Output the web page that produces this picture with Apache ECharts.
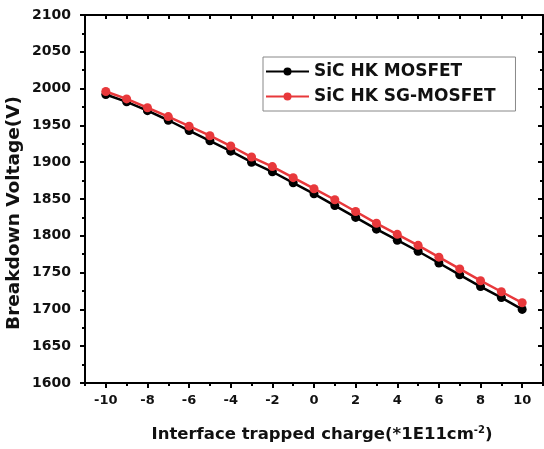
<!DOCTYPE html>
<html>
<head>
<meta charset="utf-8">
<title>Breakdown voltage vs interface trapped charge</title>
<script src="https://cdn.jsdelivr.net/npm/echarts@6/dist/echarts.min.js"></script>
<style>
  html, body { margin: 0; padding: 0; background: #fff; }
  #chart { width: 544px; height: 449px; }
</style>
</head>
<body>
<div id="chart"></div>
<script>
// trapped charge (*1E11 cm^-2)
var charge = [-10, -9, -8, -7, -6, -5, -4, -3, -2, -1, 0, 1, 2, 3, 4, 5, 6, 7, 8, 9, 10];
// breakdown voltage (V)
var hkMosfet = [1992, 1982, 1970, 1957, 1943, 1929, 1915, 1900, 1887, 1872, 1857,
                1841, 1825, 1809, 1794, 1779, 1763, 1747, 1731, 1716, 1700];
var hkSgMosfet = [1996, 1986, 1974, 1962, 1949, 1936, 1922, 1907, 1894, 1879, 1864,
                  1849, 1833, 1817, 1802, 1787, 1771, 1755, 1739, 1724, 1709];
// tick positions on the x axis
var xMajor = [-10, -8, -6, -4, -2, 0, 2, 4, 6, 8, 10];
var xMinor = [-11, -9, -7, -5, -3, -1, 1, 3, 5, 7, 9, 11];

var seriesNames = ['SiC HK MOSFET', 'SiC HK SG-MOSFET'];
var seriesColors = ['#000000', '#e8383b'];

function pairs(ys) {
    return charge.map(function (x, i) { return [x, ys[i]]; });
}

var font = '"DejaVu Sans", sans-serif';
var blackLine = { show: true, onZero: false, lineStyle: { color: '#000', width: 2 } };

var chart = echarts.init(document.getElementById('chart'));
chart.setOption({
    animation: false,
    textStyle: { fontFamily: font },
    grid: { left: 85, right: 1, top: 15, bottom: 66, containLabel: false, outerBoundsMode: 'none' },
    legend: {
        orient: 'vertical',
        left: 263,
        top: 57,
        padding: [6, 20, 6, 2],
        borderColor: '#888',
        borderWidth: 1,
        itemWidth: 43,
        itemHeight: 10,
        itemGap: 8,
        textStyle: { fontSize: 17, fontWeight: 'bold', color: '#111', fontFamily: font },
        data: seriesNames
    },
    xAxis: [{
        type: 'value',
        min: -11, max: 11, interval: 1,
        name: 'Interface trapped charge(*1E11cm{sup|-2})',
        nameLocation: 'middle',
        nameGap: 42,
        nameTextStyle: {
            fontSize: 16.5, fontWeight: 'bold', color: '#111', padding: [0, 0, 0, 16],
            rich: { sup: { fontSize: 10, fontWeight: 'bold', color: '#111', verticalAlign: 'top', padding: [0, 0, 9, 0] } }
        },
        axisLine: blackLine,
        axisTick: { inside: false, length: 5, customValues: xMajor, lineStyle: { width: 2 } },
        axisLabel: {
            fontSize: 13, fontWeight: 'bold', color: '#111', margin: 11,
            customValues: xMajor
        },
        splitLine: { show: false }
    }, {
        // short ticks at odd values
        type: 'value',
        position: 'bottom',
        min: -11, max: 11, interval: 1,
        axisLine: { show: false },
        axisTick: { inside: false, length: 3, customValues: xMinor, lineStyle: { color: '#000', width: 2 } },
        axisLabel: { show: false },
        splitLine: { show: false }
    }, {
        type: 'value',
        position: 'top',
        min: -11, max: 11, interval: 1,
        axisLine: blackLine,
        axisTick: { inside: true, length: 4, lineStyle: { width: 2 } },
        axisLabel: { show: false },
        splitLine: { show: false }
    }],
    yAxis: [{
        type: 'value',
        min: 1600, max: 2100, interval: 50,
        name: 'Breakdown Voltage(V)',
        nameLocation: 'middle',
        nameGap: 61,
        nameMoveOverlap: false,
        nameTextStyle: { fontSize: 18.5, fontWeight: 'bold', color: '#111', padding: [0, 28, 0, 0] },
        axisLine: blackLine,
        axisTick: { show: true, inside: false, length: 5, lineStyle: { width: 2 } },
        minorTick: { show: true, splitNumber: 2, length: 3, lineStyle: { color: '#000', width: 2 } },
        axisLabel: {
            fontSize: 14, fontWeight: 'bold', color: '#111', margin: 14,
            formatter: function (v) { return String(v); }
        },
        splitLine: { show: false }
    }, {
        type: 'value',
        position: 'right',
        min: 1600, max: 2100, interval: 50,
        axisLine: blackLine,
        axisTick: { show: true, inside: true, length: 5, lineStyle: { width: 2 } },
        minorTick: { show: true, splitNumber: 2, length: 3, lineStyle: { color: '#000', width: 2 } },
        axisLabel: { show: false },
        splitLine: { show: false }
    }],
    series: [hkMosfet, hkSgMosfet].map(function (ys, i) {
        return {
            name: seriesNames[i],
            type: 'line',
            data: pairs(ys),
            symbol: 'circle',
            symbolSize: 9,
            z: 3 + i,
            lineStyle: { color: seriesColors[i], width: 2.5 },
            itemStyle: { color: seriesColors[i] }
        };
    })
});
</script>
</body>
</html>
